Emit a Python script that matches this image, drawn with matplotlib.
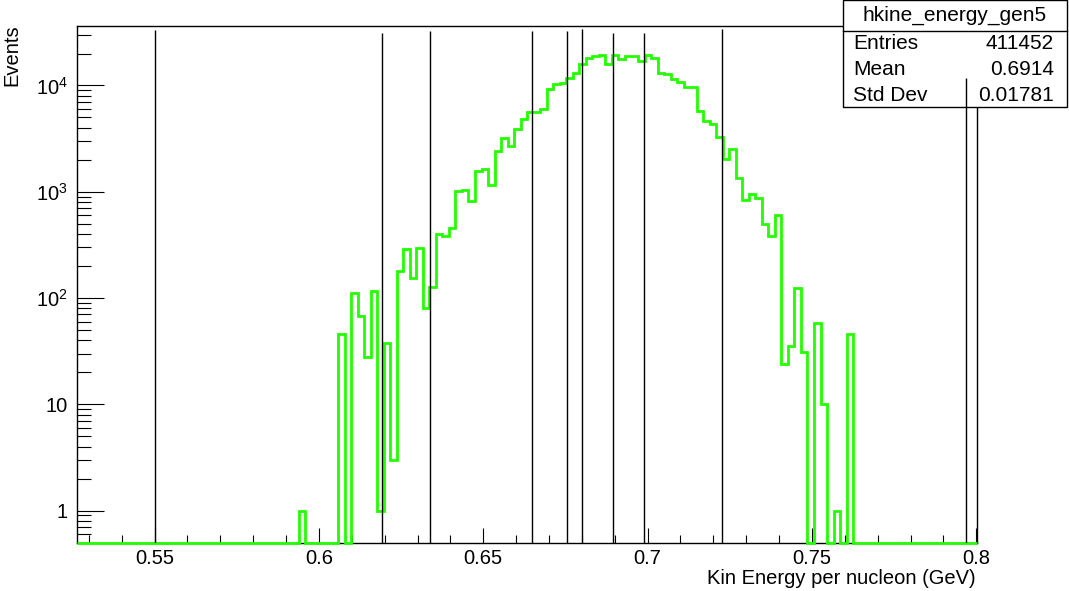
import numpy as np
import matplotlib
matplotlib.use("Agg")
import matplotlib.pyplot as plt
from matplotlib.patches import Rectangle
from matplotlib.lines import Line2D
from matplotlib.ticker import FixedLocator, FixedFormatter, LogLocator, NullFormatter, MultipleLocator

plt.rcParams['font.family'] = ['Liberation Sans', 'DejaVu Sans']
plt.rcParams['mathtext.fontset'] = 'custom'
plt.rcParams['mathtext.rm'] = 'Liberation Sans'

# histogram binning
x_lo, x_hi, n_bins = 0.5265, 0.8002, 138
y_lo, y_hi = 0.5, 3.63e4
first_bin = 34   # first bin shown in counts
counts = [1, 0, 0, 0, 0, 0, 46, 0, 111, 68, 28, 116, 1, 38, 3, 181, 291, 154, 297, 81,
          127, 402, 380, 451, 1012, 1035, 815, 1560, 1620, 1145, 2443, 3220, 2685, 3937,
          4890, 5650, 5650, 5945, 9300, 10380, 10600, 11820, 13160, 15990, 18220, 18870,
          19280, 15770, 19280, 17830, 18870, 18870, 16930, 19280, 18220, 13180, 12700,
          11560, 10740, 9600, 9660, 5730, 4615, 4360, 3290, 2013, 2500, 1333, 829, 961,
          879, 497, 384, 609, 24, 35, 123, 31, 0, 58, 10, 0, 1, 0, 46]

# vertical markers (GeV) and how high they reach (Events)
line_x = [0.55, 0.6193, 0.6339, 0.6647, 0.6756, 0.6800, 0.6896, 0.6989, 0.7226, 0.7968]
line_top = [33000, 31500, 32500, 32500, 32500, 34000, 31500, 31500, 34000, 11700]

x_ticks = [0.55, 0.6, 0.65, 0.7, 0.75, 0.8]
y_ticks = [1, 10, 100, 1000, 10000]
y_tick_labels = ['1', '10', '$10^{2}$', '$10^{3}$', '$10^{4}$']

hist_name = "hkine_energy_gen5"
stats = [("Entries", "411452"), ("Mean", "0.6914"), ("Std Dev", "0.01781")]

W, H = 1069, 591

def fx(px):
	return px / W

def fy(py):
	return 1 - py / H

fig = plt.figure(figsize=(W / 100, H / 100), dpi=100)
ax = fig.add_axes([fx(77.3), fy(542.5), fx(977) - fx(77.3), fy(26) - fy(542.5)])

edges = np.linspace(x_lo, x_hi, n_bins + 1)
vals = np.zeros(n_bins)
vals[first_bin:first_bin + len(counts)] = counts
vals = np.where(vals > 0, vals, y_lo)  # empty bins sit on the frame like ROOT

ax.stairs(vals, edges, baseline=None, color='#22ff00', lw=2.0, zorder=3, clip_on=False)
ax.vlines(line_x, y_lo, line_top, color='k', lw=1.0, zorder=6)

ax.set_yscale('log')
ax.set_xlim(x_lo, x_hi)
ax.set_ylim(y_lo, y_hi)

ax.yaxis.set_major_locator(FixedLocator(y_ticks))
ax.yaxis.set_major_formatter(FixedFormatter(y_tick_labels))
ax.yaxis.set_minor_locator(LogLocator(base=10, subs=np.arange(2, 10)))
ax.yaxis.set_minor_formatter(NullFormatter())
ax.xaxis.set_major_locator(FixedLocator(x_ticks))
ax.xaxis.set_major_formatter(FixedFormatter(['%g' % t for t in x_ticks]))
ax.xaxis.set_minor_locator(MultipleLocator(0.01))

ax.tick_params(axis='both', which='both', direction='in', width=0.8, top=False, right=False, labelsize=14.5)
ax.tick_params(axis='y', which='major', length=19.5, pad=7)
ax.tick_params(axis='y', which='minor', length=9.8)
ax.tick_params(axis='x', which='major', length=11, pad=5)
ax.tick_params(axis='x', which='minor', length=5.5)
for s in ax.spines.values():
	s.set_linewidth(1.0)

fig.text(fx(976), fy(578), "Kin Energy per nucleon (GeV)", ha='right', va='center', fontsize=14.5)
fig.text(fx(12), fy(24), "Events", rotation=90, ha='center', va='top', fontsize=14.5)

# stats box (covers the frame corner, the marker lines stay on top)
box_l, box_r, box_b, box_d = 843, 1066.5, 107.3, 31
ax.add_patch(Rectangle((fx(box_l), fy(box_b)), fx(box_r) - fx(box_l), fy(0.5) - fy(box_b),
	transform=fig.transFigure, facecolor='white', edgecolor='black', lw=1.0, clip_on=False, zorder=4))
ax.add_line(Line2D([fx(box_l), fx(box_r)], [fy(box_d), fy(box_d)], transform=fig.transFigure,
	color='black', lw=1.0, clip_on=False, zorder=4.5))
ax.text(fx((box_l + box_r) / 2), fy(15.5), hist_name, transform=fig.transFigure, ha='center', va='center',
	fontsize=15, zorder=5)
for i, (lab, val) in enumerate(stats):
	yy = fy(43.5 + 25.8 * i)
	ax.text(fx(853), yy, lab, transform=fig.transFigure, ha='left', va='center', fontsize=15, zorder=5)
	ax.text(fx(1054), yy, val, transform=fig.transFigure, ha='right', va='center', fontsize=15, zorder=5)

fig.savefig("out.png", dpi=100)
